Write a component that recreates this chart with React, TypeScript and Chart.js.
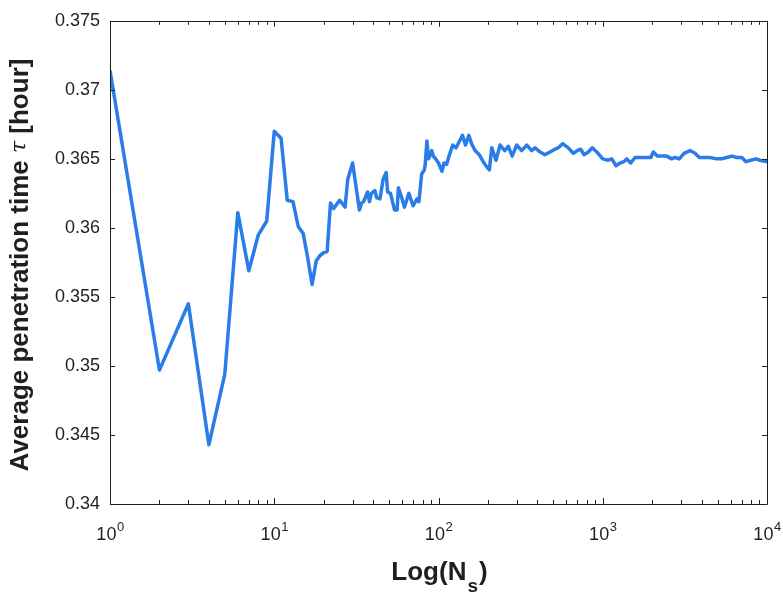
import React, { useEffect, useRef } from "react";
import { Chart, registerables } from "chart.js";

Chart.register(...registerables);

// Number of samples N_s (x, log scale)
const sampleCounts: number[] = [
  1, 2, 3, 4, 5, 6, 7, 8, 9, 10, 11, 12, 13, 14, 15, 16, 17, 18, 19, 20,
  21, 22, 23, 25, 27, 28, 30, 33, 34, 35, 37, 38, 39, 41, 42, 44, 46, 48, 49, 51,
  54, 56, 57, 60, 62, 66, 70, 74, 76, 79, 82, 83, 85, 87, 91, 93, 96, 100, 105, 108,
  112, 116, 122, 128, 133, 140, 146, 153, 159, 167, 177, 187, 197, 204, 211, 224, 237, 253, 266, 281,
  299, 321, 345, 369, 387, 415, 445, 477, 512, 536, 570, 617, 662, 700, 734, 769, 817, 864, 919, 1000,
  1081, 1134, 1205, 1274, 1347, 1399, 1480, 1572, 1685, 1852, 1960, 2032, 2150, 2316, 2450, 2628, 2754, 2925, 3124, 3399,
  3645, 3873, 4095, 4497, 4940, 5300, 5686, 6100, 6543, 7018, 7452, 7955, 8577, 9062, 9862, 10000,
];

// Average penetration time tau [hour]
const avgTau: number[] = [
  0.3714, 0.3497, 0.3545, 0.3443, 0.3494, 0.3611, 0.3569, 0.3595, 0.3605, 0.367, 0.3665, 0.362, 0.3619, 0.3601, 0.3596, 0.3578, 0.3559, 0.3576, 0.358, 0.3582,
  0.3583, 0.3618, 0.3614, 0.362, 0.3615, 0.3635, 0.3647, 0.3613, 0.3618, 0.3619, 0.3626, 0.3619, 0.3625, 0.3627, 0.3622, 0.3621, 0.3635, 0.364, 0.3626, 0.3625,
  0.3613, 0.3613, 0.3629, 0.3621, 0.3615, 0.3625, 0.3616, 0.3621, 0.3619, 0.3639, 0.3642, 0.3646, 0.3663, 0.365, 0.3656, 0.3652, 0.365, 0.3647, 0.3641, 0.3647,
  0.3646, 0.3652, 0.366, 0.3658, 0.3662, 0.3667, 0.366, 0.3667, 0.3661, 0.3656, 0.3653, 0.3648, 0.3644, 0.3642, 0.3658, 0.3649, 0.366, 0.3656, 0.3659, 0.3652,
  0.366, 0.3656, 0.366, 0.3656, 0.3658, 0.3655, 0.3653, 0.3655, 0.3657, 0.3658, 0.3661, 0.3658, 0.3654, 0.3656, 0.3657, 0.3653, 0.3655, 0.3658, 0.3655, 0.365,
  0.3649, 0.365, 0.3645, 0.3647, 0.3648, 0.365, 0.3647, 0.3651, 0.3651, 0.3651, 0.3651, 0.3655, 0.3652, 0.3652, 0.3652, 0.365, 0.3651, 0.365, 0.3654, 0.3656,
  0.3654, 0.3651, 0.3651, 0.3651, 0.365, 0.365, 0.3651, 0.3652, 0.3651, 0.3651, 0.3648, 0.3649, 0.365, 0.3649, 0.3648, 0.3648,
];

const xExponents: number[] = [0, 1, 2, 3, 4];
const yTickValues: number[] = [0.34, 0.345, 0.35, 0.355, 0.36, 0.365, 0.37, 0.375];

const X_TITLE_MAIN = "Log(N";
const X_TITLE_SUB = "s";
const X_TITLE_END = ")";
const Y_TITLE_A = "Average penetration time ";
const Y_TITLE_TAU = "τ";
const Y_TITLE_B = " [hour]";

const AXIS_COLOR = "#1f1f1f";
const LINE_COLOR = "#2a7de8";
const SANS = "'Liberation Sans', Arial, sans-serif";

const framePlugin = {
  id: "matlabFrame",
  afterDraw(chart: any) {
    const { ctx, chartArea } = chart;
    const { left, right, top, bottom } = chartArea;
    const xs = chart.scales.x;
    const ys = chart.scales.y;
    ctx.save();
    // box
    ctx.strokeStyle = AXIS_COLOR;
    ctx.lineWidth = 1;
    ctx.beginPath();
    ctx.rect(Math.round(left) + 0.5, Math.round(top) + 0.5, Math.round(right - left), Math.round(bottom - top));
    ctx.stroke();

    // x ticks (log), major & minor, inward at top and bottom
    ctx.beginPath();
    for (let e = 0; e < xExponents.length; e++) {
      const base = Math.pow(10, xExponents[e]);
      for (let m = 1; m <= 9; m++) {
        const v = base * m;
        if (v > 10000) break;
        const px = Math.round(xs.getPixelForValue(v)) + 0.5;
        const len = m === 1 ? 6 : 4;
        ctx.moveTo(px, bottom);
        ctx.lineTo(px, bottom - len);
        ctx.moveTo(px, top);
        ctx.lineTo(px, top + len);
      }
    }
    // y ticks
    for (const v of yTickValues) {
      const py = Math.round(ys.getPixelForValue(v)) + 0.5;
      ctx.moveTo(left, py);
      ctx.lineTo(left + 5, py);
      ctx.moveTo(right, py);
      ctx.lineTo(right - 5, py);
    }
    ctx.stroke();

    // x tick labels 10^k
    ctx.fillStyle = AXIS_COLOR;
    ctx.textBaseline = "alphabetic";
    ctx.textAlign = "left";
    for (const e of xExponents) {
      const px = xs.getPixelForValue(Math.pow(10, e));
      ctx.font = `18px ${SANS}`;
      const wBase = ctx.measureText("10").width;
      ctx.font = `13px ${SANS}`;
      const wExp = ctx.measureText(String(e)).width;
      const x0 = px - (wBase + wExp) / 2;
      ctx.font = `18px ${SANS}`;
      ctx.fillText("10", x0, bottom + 36);
      ctx.font = `13px ${SANS}`;
      ctx.fillText(String(e), x0 + wBase + 0.5, bottom + 27);
    }

    // x axis title
    const cx = (left + right) / 2;
    ctx.font = `bold 26px ${SANS}`;
    const w1 = ctx.measureText(X_TITLE_MAIN).width;
    const w3 = ctx.measureText(X_TITLE_END).width;
    ctx.font = `bold 19px ${SANS}`;
    const w2 = ctx.measureText(X_TITLE_SUB).width;
    let tx = cx - (w1 + w2 + w3) / 2;
    ctx.font = `bold 26px ${SANS}`;
    ctx.fillText(X_TITLE_MAIN, tx, 580);
    tx += w1 + 1;
    ctx.font = `bold 19px ${SANS}`;
    ctx.fillText(X_TITLE_SUB, tx, 592);
    tx += w2 + 1;
    ctx.font = `bold 26px ${SANS}`;
    ctx.fillText(X_TITLE_END, tx, 580);

    // y axis title (rotated)
    ctx.font = `bold 26px ${SANS}`;
    const a = ctx.measureText(Y_TITLE_A).width;
    const b = ctx.measureText(Y_TITLE_B).width;
    ctx.font = `italic 22px 'DejaVu Serif', serif`;
    const t = ctx.measureText(Y_TITLE_TAU).width;
    const total = a + t + b;
    const cy = 265;
    ctx.translate(28, cy);
    ctx.rotate(-Math.PI / 2);
    let ry = -total / 2;
    ctx.font = `bold 26px ${SANS}`;
    ctx.fillText(Y_TITLE_A, ry, 0);
    ry += a;
    ctx.font = `italic 22px 'DejaVu Serif', serif`;
    ctx.fillText(Y_TITLE_TAU, ry, -2);
    ry += t;
    ctx.font = `bold 26px ${SANS}`;
    ctx.fillText(Y_TITLE_B, ry, 0);
    ctx.restore();
  },
};

export default function App() {
  const canvasRef = useRef<HTMLCanvasElement | null>(null);

  useEffect(() => {
    if (!canvasRef.current) return;
    const points = sampleCounts.map((n, i) => ({ x: n, y: avgTau[i] }));
    const chart = new Chart(canvasRef.current, {
      type: "line",
      data: {
        datasets: [
          {
            data: points,
            borderColor: LINE_COLOR,
            borderWidth: 3.5,
            borderJoinStyle: "round",
            pointRadius: 0,
            tension: 0,
            fill: false,
          },
        ],
      },
      options: {
        animation: false,
        responsive: false,
        maintainAspectRatio: false,
        parsing: false as any,
        layout: { padding: { top: 11, right: 16, left: 0, bottom: 0 } },
        plugins: {
          legend: { display: false },
          tooltip: { enabled: false },
          title: { display: false },
        },
        scales: {
          x: {
            type: "logarithmic",
            min: 1,
            max: 10000,
            grid: { display: false, drawTicks: false },
            border: { display: false },
            ticks: { display: false },
            afterFit: (scale: any) => {
              scale.height = 97;
            },
          },
          y: {
            type: "linear",
            min: 0.34,
            max: 0.375,
            grid: { display: false, drawTicks: false },
            border: { display: false },
            ticks: {
              stepSize: 0.005,
              padding: 10,
              color: AXIS_COLOR,
              font: { family: SANS, size: 18 },
              callback: (v: any) => String(Number(Number(v).toFixed(3))),
            },
            afterFit: (scale: any) => {
              scale.width = 110;
            },
          },
        },
      },
      plugins: [framePlugin],
    });
    return () => chart.destroy();
  }, []);

  return (
    <div style={{ position: "fixed", left: 0, top: 0, width: 783, height: 601, background: "#fff" }}>
      <canvas ref={canvasRef} width={783} height={601} style={{ display: "block" }} />
    </div>
  );
}
